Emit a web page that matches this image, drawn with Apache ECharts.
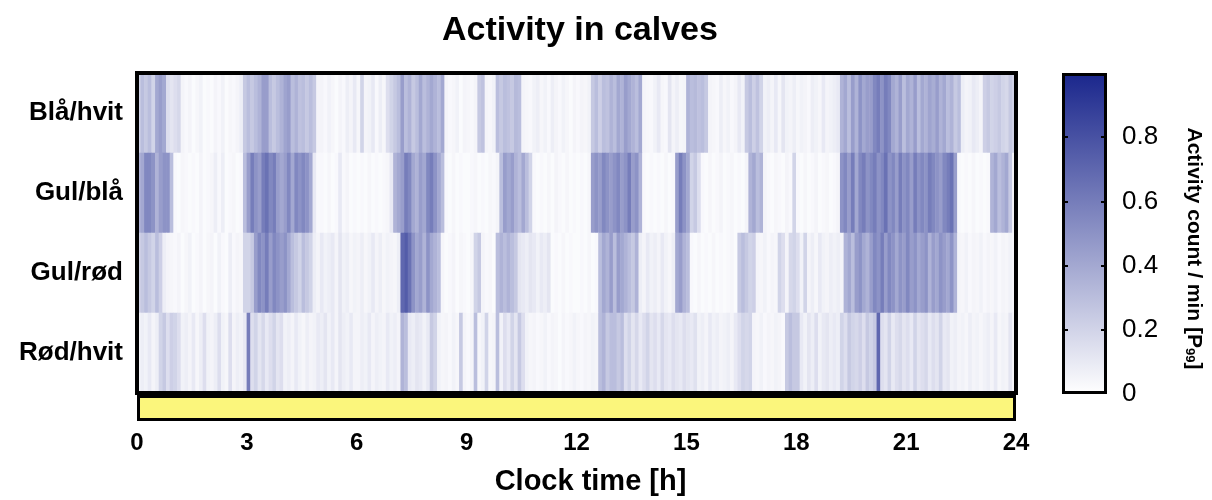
<!DOCTYPE html>
<html>
<head>
<meta charset="utf-8">
<script src="https://cdn.jsdelivr.net/npm/echarts@6/dist/echarts.min.js"></script>
<style>
  html, body { margin: 0; padding: 0; background: #fff; }
  #chart { width: 1212px; height: 500px; }
</style>
</head>
<body>
<div id="chart"></div>
<script>
// animals, top to bottom
const calves = ["Blå/hvit", "Gul/blå", "Gul/rød", "Rød/hvit"];

// 6-minute bins, 10 per hour, 0-24 h
const binsPerHour = 10;
const timeBins = Array.from({ length: 24 * binsPerHour }, (_, i) => (i / binsPerHour).toFixed(1));

const blaHvit = [
  0.2,0.3,0.25,0.3,0.2,0.4,0.45,0.4,0.15,0.12,
  0.15,0.18,0.05,0.03,0.05,0.02,0.04,0.06,0.02,0.03,
  0.02,0.05,0.03,0.06,0.02,0.04,0.03,0.05,0.08,0.25,
  0.3,0.25,0.3,0.35,0.45,0.45,0.3,0.25,0.3,0.35,
  0.42,0.45,0.3,0.35,0.28,0.3,0.25,0.3,0.25,0.05,
  0.05,0.03,0.06,0.04,0.02,0.05,0.03,0.08,0.05,0.1,
  0.04,0.2,0.05,0.06,0.1,0.03,0.08,0.04,0.15,0.2,
  0.25,0.3,0.45,0.3,0.35,0.25,0.3,0.4,0.3,0.35,
  0.4,0.35,0.3,0.4,0.05,0.03,0.04,0.06,0.02,0.05,
  0.04,0.03,0.05,0.25,0.28,0.05,0.04,0.06,0.3,0.25,
  0.3,0.28,0.25,0.32,0.3,0.05,0.04,0.03,0.06,0.08,
  0.04,0.06,0.03,0.08,0.05,0.03,0.06,0.04,0.02,0.05,
  0.03,0.05,0.04,0.06,0.25,0.3,0.22,0.3,0.28,0.35,
  0.3,0.4,0.35,0.45,0.4,0.35,0.3,0.4,0.05,0.04,
  0.03,0.06,0.1,0.04,0.03,0.12,0.05,0.08,0.04,0.05,
  0.35,0.3,0.32,0.28,0.3,0.25,0.05,0.04,0.03,0.08,
  0.04,0.06,0.03,0.05,0.1,0.06,0.25,0.3,0.22,0.28,
  0.2,0.06,0.08,0.05,0.1,0.04,0.12,0.06,0.05,0.08,
  0.04,0.06,0.05,0.03,0.08,0.06,0.04,0.1,0.05,0.06,
  0.08,0.1,0.35,0.4,0.3,0.45,0.35,0.5,0.4,0.45,
  0.45,0.55,0.6,0.5,0.6,0.55,0.4,0.35,0.45,0.3,
  0.4,0.35,0.45,0.3,0.4,0.35,0.42,0.38,0.45,0.35,
  0.4,0.3,0.35,0.25,0.3,0.08,0.05,0.06,0.1,0.08,
  0.05,0.22,0.25,0.2,0.22,0.25,0.2,0.18,0.25,0.2
];

const gulBla = [
  0.35,0.4,0.55,0.55,0.5,0.35,0.45,0.5,0.5,0.3,
  0.03,0.02,0.04,0.03,0.02,0.03,0.02,0.05,0.02,0.03,
  0.04,0.08,0.03,0.08,0.02,0.03,0.04,0.02,0.03,0.3,
  0.45,0.6,0.5,0.45,0.6,0.65,0.55,0.6,0.45,0.4,
  0.45,0.55,0.4,0.55,0.5,0.55,0.5,0.4,0.1,0.03,
  0.03,0.02,0.04,0.02,0.03,0.1,0.03,0.05,0.02,0.03,
  0.02,0.03,0.02,0.04,0.02,0.03,0.02,0.03,0.04,0.1,
  0.35,0.4,0.45,0.6,0.55,0.4,0.35,0.45,0.4,0.55,
  0.6,0.5,0.4,0.3,0.03,0.02,0.04,0.02,0.03,0.02,
  0.02,0.03,0.04,0.02,0.03,0.02,0.04,0.03,0.05,0.3,
  0.45,0.4,0.45,0.35,0.3,0.4,0.3,0.2,0.03,0.02,
  0.03,0.02,0.04,0.02,0.05,0.03,0.02,0.04,0.02,0.03,
  0.02,0.03,0.02,0.04,0.45,0.5,0.45,0.55,0.5,0.45,
  0.5,0.55,0.45,0.5,0.6,0.45,0.5,0.35,0.03,0.02,
  0.03,0.02,0.03,0.02,0.04,0.02,0.03,0.45,0.6,0.5,
  0.4,0.2,0.25,0.15,0.03,0.02,0.04,0.02,0.03,0.05,
  0.02,0.03,0.04,0.02,0.03,0.02,0.05,0.35,0.4,0.3,
  0.35,0.05,0.03,0.02,0.04,0.03,0.02,0.05,0.03,0.2,
  0.03,0.02,0.04,0.02,0.03,0.05,0.02,0.03,0.04,0.02,
  0.03,0.05,0.5,0.55,0.45,0.6,0.4,0.55,0.6,0.5,
  0.55,0.6,0.5,0.55,0.65,0.5,0.55,0.45,0.6,0.5,
  0.55,0.45,0.6,0.5,0.55,0.5,0.6,0.55,0.5,0.45,
  0.55,0.6,0.65,0.45,0.03,0.02,0.03,0.02,0.04,0.02,
  0.03,0.02,0.03,0.35,0.4,0.3,0.35,0.4,0.25,0.05
];

const gulRod = [
  0.2,0.25,0.3,0.25,0.2,0.3,0.22,0.08,0.05,0.04,
  0.03,0.05,0.02,0.04,0.06,0.02,0.03,0.05,0.02,0.04,
  0.05,0.02,0.06,0.03,0.02,0.08,0.03,0.05,0.04,0.2,
  0.2,0.25,0.45,0.55,0.5,0.6,0.45,0.55,0.5,0.45,
  0.5,0.4,0.3,0.25,0.2,0.3,0.25,0.2,0.08,0.05,
  0.1,0.06,0.08,0.1,0.05,0.12,0.06,0.08,0.04,0.06,
  0.05,0.08,0.04,0.06,0.1,0.05,0.08,0.04,0.06,0.05,
  0.04,0.08,0.7,0.75,0.65,0.5,0.4,0.45,0.35,0.5,
  0.4,0.35,0.3,0.04,0.02,0.03,0.05,0.02,0.04,0.03,
  0.02,0.04,0.2,0.25,0.05,0.03,0.04,0.02,0.3,0.35,
  0.3,0.35,0.3,0.25,0.12,0.1,0.08,0.12,0.1,0.06,
  0.1,0.08,0.12,0.02,0.03,0.02,0.04,0.02,0.03,0.02,
  0.02,0.03,0.02,0.04,0.02,0.03,0.3,0.4,0.35,0.45,
  0.3,0.45,0.4,0.35,0.3,0.25,0.35,0.08,0.05,0.1,
  0.06,0.08,0.05,0.1,0.06,0.04,0.08,0.4,0.45,0.35,
  0.3,0.03,0.02,0.04,0.02,0.03,0.02,0.04,0.02,0.03,
  0.02,0.03,0.04,0.02,0.25,0.3,0.25,0.2,0.22,0.05,
  0.04,0.06,0.03,0.05,0.04,0.2,0.15,0.05,0.18,0.2,
  0.15,0.06,0.2,0.05,0.08,0.04,0.1,0.06,0.05,0.08,
  0.06,0.08,0.05,0.35,0.4,0.3,0.45,0.5,0.4,0.35,
  0.45,0.55,0.5,0.6,0.45,0.55,0.5,0.4,0.5,0.45,
  0.55,0.45,0.5,0.4,0.45,0.5,0.35,0.45,0.4,0.5,
  0.45,0.4,0.5,0.35,0.05,0.04,0.06,0.03,0.05,0.04,
  0.06,0.03,0.05,0.04,0.06,0.03,0.05,0.04,0.06,0.03
];

const rodHvit = [
  0.05,0.08,0.06,0.1,0.05,0.08,0.2,0.25,0.15,0.22,
  0.2,0.15,0.06,0.08,0.05,0.1,0.04,0.08,0.15,0.06,
  0.05,0.08,0.15,0.06,0.04,0.15,0.05,0.08,0.06,0.1,
  0.6,0.15,0.2,0.12,0.18,0.1,0.15,0.2,0.12,0.15,
  0.06,0.08,0.05,0.1,0.06,0.04,0.08,0.05,0.06,0.1,
  0.08,0.12,0.06,0.1,0.05,0.12,0.08,0.06,0.1,0.05,
  0.05,0.08,0.06,0.1,0.05,0.08,0.06,0.05,0.1,0.06,
  0.08,0.05,0.35,0.3,0.1,0.08,0.12,0.1,0.06,0.1,
  0.25,0.2,0.06,0.04,0.05,0.03,0.06,0.04,0.25,0.05,
  0.03,0.05,0.3,0.04,0.06,0.2,0.04,0.05,0.3,0.06,
  0.15,0.1,0.2,0.12,0.25,0.15,0.06,0.04,0.05,0.03,
  0.04,0.06,0.03,0.05,0.04,0.02,0.05,0.03,0.04,0.06,
  0.04,0.03,0.05,0.04,0.06,0.05,0.3,0.35,0.25,0.3,
  0.3,0.25,0.3,0.15,0.2,0.12,0.18,0.1,0.15,0.2,
  0.12,0.15,0.1,0.18,0.12,0.1,0.15,0.12,0.1,0.15,
  0.12,0.1,0.14,0.06,0.08,0.05,0.1,0.06,0.08,0.05,
  0.06,0.08,0.05,0.1,0.15,0.2,0.18,0.2,0.05,0.04,
  0.06,0.03,0.05,0.04,0.06,0.05,0.03,0.25,0.3,0.25,
  0.25,0.1,0.06,0.12,0.08,0.15,0.06,0.1,0.12,0.08,
  0.1,0.08,0.2,0.15,0.25,0.2,0.18,0.22,0.15,0.25,
  0.2,0.25,0.7,0.15,0.12,0.2,0.1,0.15,0.18,0.12,
  0.15,0.1,0.2,0.12,0.15,0.18,0.1,0.15,0.12,0.2,
  0.1,0.12,0.06,0.08,0.05,0.06,0.04,0.08,0.05,0.06,
  0.04,0.06,0.08,0.05,0.1,0.04,0.06,0.05,0.12,0.04
];

// light period bar under the heatmap (hours of light)
const lightHours = [24];
const xTicks = [0, 3, 6, 9, 12, 15, 18, 21, 24];
const colorTicks = [0, 0.2, 0.4, 0.6, 0.8];
const colorMax = 1;

const rows = [blaHvit, gulBla, gulRod, rodHvit];
const heatData = [];
rows.forEach((values, r) => {
  values.forEach((v, i) => heatData.push([i, r, v]));
});

const font = "Liberation Sans, Arial, Helvetica, sans-serif";
const lowColor = "#ffffff";
const highColor = "#1a268c";

const chart = echarts.init(document.getElementById("chart"), null, { renderer: "canvas" });

// ticks drawn inside the colour bar, on both edges
const innerTicks = (position) => ({
  type: "value", gridIndex: 2, position, min: 0, max: colorMax, interval: 0.2, z: 5,
  axisLine: { show: false }, splitLine: { show: false },
  axisTick: {
    show: true, inside: true, length: 6, lineStyle: { color: "#000", width: 2 },
    customValues: colorTicks.slice(1)
  }
});

chart.setOption({
  animation: false,
  backgroundColor: "#fff",
  textStyle: { fontFamily: font, color: "#000" },
  title: {
    text: "Activity in calves",
    left: 437,
    top: 9,
    textStyle: { fontFamily: font, fontSize: 34, fontWeight: "bold", color: "#000" }
  },
  grid: [
    { left: 137, right: 196, top: 73, height: 320, show: true, borderColor: "#000", borderWidth: 4, backgroundColor: "transparent", z: 10 },
    { left: 137, right: 196, top: 395, height: 26 },
    { left: 1062, width: 45, top: 73, height: 321 }
  ],
  xAxis: [
    { type: "category", gridIndex: 0, data: timeBins, show: false },
    {
      type: "value", gridIndex: 1, min: 0, max: 24, interval: 3,
      axisLine: { show: false }, axisTick: { show: false }, splitLine: { show: false },
      axisLabel: {
        margin: 10, fontSize: 24, fontWeight: "bold", color: "#000", fontFamily: font,
        formatter: (v) => (xTicks.includes(v) ? String(v) : "")
      },
      name: "Clock time [h]",
      nameLocation: "middle",
      nameGap: 46,
      nameTextStyle: { fontSize: 29, fontWeight: "bold", color: "#000", fontFamily: font, padding: [0, 0, 0, 28] }
    },
    { type: "category", gridIndex: 2, data: ["scale"], show: false }
  ],
  yAxis: [
    {
      type: "category", gridIndex: 0, data: calves, inverse: true,
      axisLine: { show: false }, axisTick: { show: false }, splitLine: { show: false },
      axisLabel: { margin: 14, fontSize: 26, fontWeight: "bold", color: "#000", fontFamily: font }
    },
    { type: "category", gridIndex: 1, data: ["Light"], show: false },
    Object.assign(innerTicks("right"), {
      axisLabel: {
        margin: 15, fontSize: 26, color: "#000", fontFamily: font,
        formatter: (v) => {
          const t = colorTicks.find((c) => Math.abs(c - v) < 1e-6);
          return t === undefined ? "" : String(t);
        }
      },
      name: "Activity count / min [P{s|99}]",
      nameLocation: "middle",
      nameRotate: -90,
      nameGap: 76,
      nameTextStyle: {
        fontSize: 21, fontWeight: "bold", color: "#000", fontFamily: font, padding: [0, 0, 0, 30],
        rich: { s: { fontSize: 13, fontWeight: "bold", fontFamily: font, padding: [9, 0, 0, 0] } }
      }
    }),
    Object.assign(innerTicks("left"), { axisLabel: { show: false } })
  ],
  visualMap: {
    show: false,
    type: "continuous",
    seriesIndex: 0,
    min: 0,
    max: colorMax,
    inRange: { color: [lowColor, highColor] }
  },
  series: [
    {
      type: "heatmap",
      xAxisIndex: 0,
      yAxisIndex: 0,
      data: heatData,
      itemStyle: { borderWidth: 0 },
      emphasis: { disabled: true }
    },
    {
      type: "bar",
      xAxisIndex: 1,
      yAxisIndex: 1,
      data: lightHours,
      barWidth: "100%",
      silent: true,
      itemStyle: { color: "#fbf67c", borderColor: "#000", borderWidth: 3 }
    },
    {
      type: "bar",
      xAxisIndex: 2,
      yAxisIndex: 2,
      data: [colorMax],
      barWidth: "100%",
      silent: true,
      z: 1,
      itemStyle: {
        borderColor: "#000",
        borderWidth: 3,
        color: new echarts.graphic.LinearGradient(0, 0, 0, 1, [
          { offset: 0, color: highColor },
          { offset: 1, color: lowColor }
        ])
      }
    }
  ]
});
</script>
</body>
</html>
